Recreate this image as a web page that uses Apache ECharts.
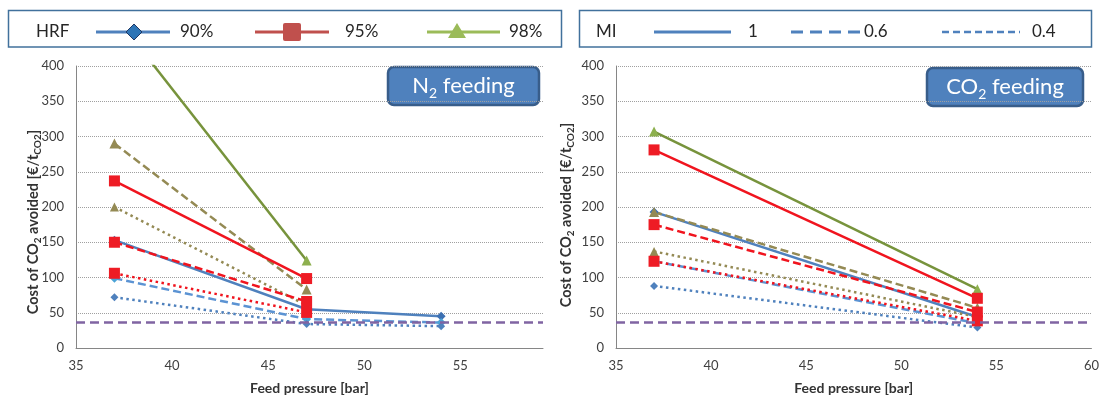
<!DOCTYPE html>
<html>
<head>
<meta charset="utf-8">
<script src="https://cdn.jsdelivr.net/npm/echarts@6/dist/echarts.min.js"></script>
<style>
html,body{margin:0;padding:0;background:#fff;}
#chart{width:1102px;height:400px;}
</style>
</head>
<body>
<div id="chart"></div>
<script>
// ---- data ----
const pressureN2 = [37, 47, 54];
const pressureCO2 = [37, 54];
const xTicks = [35, 40, 45, 50, 55, 60];
const yTicks = [0, 50, 100, 150, 200, 250, 300, 350, 400];
const refCost = 37;

// N2 feeding panel (HRF / MI)
const n2_90_1  = [153, 55, 45];
const n2_90_06 = [99, 41, 36];
const n2_90_04 = [72, 34, 31];
const n2_95_1  = [237, 98.5];
const n2_95_06 = [150, 66];
const n2_95_04 = [106, 50.5];
const n2_98_1  = [472, 124];
const n2_98_06 = [290, 83];
const n2_98_04 = [200, 60.5];

// CO2 feeding panel
const co2_90_1  = [193, 44];
const co2_90_06 = [123, 35];
const co2_90_04 = [88, 29];
const co2_95_1  = [281, 70.5];
const co2_95_06 = [175, 51];
const co2_95_04 = [123, 38.5];
const co2_98_1  = [307, 83.5];
const co2_98_06 = [193, 57];
const co2_98_04 = [137, 44];

// ---- styles ----
const FONT = 'Lato, "Open Sans", sans-serif';
const DASH = [8, 4];
const DOT = [2.5, 3.5];

const styles = {
  b1:  {line:'#4F81BD', mark:'#3D70B2', symbol:'diamond', size:9, dash:'solid'},
  b06: {line:'#5B93D3', mark:'#4BA3D6', symbol:'diamond', size:9, dash:DASH},
  b04: {line:'#4F81BD', mark:'#4F81BD', symbol:'diamond', size:8, dash:DOT},
  r1:  {line:'#F0141E', mark:'#EE1C25', symbol:'rect', size:11, dash:'solid'},
  r06: {line:'#F0141E', mark:'#EE1C25', symbol:'rect', size:11, dash:DASH},
  r04: {line:'#F0141E', mark:'#EE1C25', symbol:'rect', size:11, dash:DOT},
  g1:  {line:'#77933C', mark:'#8DB04E', symbol:'triangle', size:10, dash:'solid'},
  g06: {line:'#948A54', mark:'#948A54', symbol:'triangle', size:10, dash:DASH},
  g04: {line:'#948A54', mark:'#948A54', symbol:'triangle', size:9, dash:DOT}
};

function mk(idx, xs, vals, st, name, ref) {
  const s = {
    type: 'line', name: name, xAxisIndex: idx, yAxisIndex: idx,
    data: vals.map((v, i) => [xs[i], v]),
    symbol: st.symbol, symbolSize: st.size,
    showAllSymbol: true, clip: true,
    lineStyle: {color: st.line, width: 2.5, type: st.dash, cap: 'butt'},
    itemStyle: {color: st.mark, borderWidth: 0},
    silent: true, animation: false
  };
  if (ref) {
    s.markLine = {
      silent: true, symbol: 'none', animation: false,
      label: {show: false},
      lineStyle: {color: '#8064A2', type: [9, 5], width: 2.5},
      data: [{yAxis: refCost}]
    };
  }
  return s;
}

const series = [
  mk(0, pressureN2, n2_90_1, styles.b1, 'N2 90% MI1', true),
  mk(0, pressureN2, n2_90_06, styles.b06, 'N2 90% MI0.6'),
  mk(0, pressureN2, n2_90_04, styles.b04, 'N2 90% MI0.4'),
  mk(0, pressureN2, n2_98_1, styles.g1, 'N2 98% MI1'),
  mk(0, pressureN2, n2_98_06, styles.g06, 'N2 98% MI0.6'),
  mk(0, pressureN2, n2_98_04, styles.g04, 'N2 98% MI0.4'),
  mk(0, pressureN2, n2_95_1, styles.r1, 'N2 95% MI1'),
  mk(0, pressureN2, n2_95_06, styles.r06, 'N2 95% MI0.6'),
  mk(0, pressureN2, n2_95_04, styles.r04, 'N2 95% MI0.4'),
  mk(1, pressureCO2, co2_90_1, styles.b1, 'CO2 90% MI1', true),
  mk(1, pressureCO2, co2_90_06, styles.b06, 'CO2 90% MI0.6'),
  mk(1, pressureCO2, co2_90_04, styles.b04, 'CO2 90% MI0.4'),
  mk(1, pressureCO2, co2_98_1, styles.g1, 'CO2 98% MI1'),
  mk(1, pressureCO2, co2_98_06, styles.g06, 'CO2 98% MI0.6'),
  mk(1, pressureCO2, co2_98_04, styles.g04, 'CO2 98% MI0.4'),
  mk(1, pressureCO2, co2_95_1, styles.r1, 'CO2 95% MI1'),
  mk(1, pressureCO2, co2_95_06, styles.r06, 'CO2 95% MI0.6'),
  mk(1, pressureCO2, co2_95_04, styles.r04, 'CO2 95% MI0.4')
];

const labelColor = '#404040';
function xAx(idx, max) {
  return {
    type: 'value', gridIndex: idx, min: xTicks[0], max: max, interval: 5,
    axisLine: {show: true, lineStyle: {color: '#868686', width: 1}},
    axisTick: {show: false},
    splitLine: {show: false},
    axisLabel: {color: labelColor, fontSize: 13, fontFamily: FONT, margin: 11,
      showMaxLabel: max === xTicks[xTicks.length - 1],
      formatter: v => (xTicks.indexOf(v) >= 0 ? String(v) : '')},
    name: 'Feed pressure [bar]', nameLocation: 'middle', nameGap: 33,
    nameTextStyle: {color: '#333', fontSize: 14, fontWeight: 'bold', fontFamily: FONT}
  };
}
function yAx(idx) {
  return {
    type: 'value', gridIndex: idx, min: yTicks[0], max: yTicks[yTicks.length - 1], interval: 50,
    axisLine: {show: true, lineStyle: {color: '#868686', width: 1}},
    axisTick: {show: false},
    splitLine: {show: true, lineStyle: {color: '#A0A0A0', type: [1, 1], width: 1}},
    axisLabel: {color: labelColor, fontSize: 13, fontFamily: FONT, margin: 12}
  };
}

const yTitleRich = {
  b: {fontSize: 14.5, fontWeight: 'bold', fontFamily: FONT, fill: '#333', lineHeight: 20, verticalAlign: 'middle'},
  s: {fontSize: 10, fontWeight: 'bold', fontFamily: FONT, fill: '#333', lineHeight: 20, verticalAlign: 'bottom'}
};
const yTitleText = '{b|Cost of CO}{s|2}{b| avoided [€/t}{s|CO2}{b|]}';
const boxRich = {
  a: {fontSize: 22, fontFamily: FONT, fill: '#fff', lineHeight: 28, verticalAlign: 'middle'},
  s: {fontSize: 14, fontFamily: FONT, fill: '#fff', lineHeight: 28, verticalAlign: 'bottom'}
};

const legTxt = (x, t) => ({type: 'text', x: x, y: 32, silent: true,
  style: {text: t, fontSize: 17, fontFamily: FONT, fill: '#262626', align: 'left', verticalAlign: 'middle'}});
const legLine = (x1, x2, color, dash, w) => ({type: 'line', silent: true,
  shape: {x1: x1, y1: 32, x2: x2, y2: 32},
  style: {stroke: color, lineWidth: w || 3, lineDash: dash || null}});

const graphic = [
  // legend boxes
  {type: 'rect', silent: true, shape: {x: 8.5, y: 10.5, width: 553, height: 36.5},
   style: {fill: '#fff', stroke: '#41719C', lineWidth: 1.5}},
  {type: 'rect', silent: true, shape: {x: 579.5, y: 10.5, width: 512, height: 36.5},
   style: {fill: '#fff', stroke: '#41719C', lineWidth: 1.5}},
  legTxt(36, 'HRF'),
  legLine(96, 170, '#4F81BD'),
  {type: 'polygon', silent: true, shape: {points: [[134, 24], [142, 32], [134, 40], [126, 32]]},
   style: {fill: '#2E75B6', stroke: '#203864', lineWidth: 1}},
  legTxt(180, '90%'),
  legLine(255, 329, '#C0504D'),
  {type: 'rect', silent: true, shape: {x: 283, y: 23, width: 18, height: 18, r: 2},
   style: {fill: '#C0504D'}},
  legTxt(345, '95%'),
  legLine(427, 500, '#9BBB59'),
  {type: 'polygon', silent: true, shape: {points: [[457, 23], [466, 38], [448, 38]]},
   style: {fill: '#9BBB59'}},
  legTxt(509, '98%'),
  legTxt(596, 'MI'),
  legLine(654, 731, '#4F81BD'),
  legTxt(748, '1'),
  legLine(791, 862, '#4F81BD', [12, 7]),
  legTxt(864, '0.6'),
  legLine(942, 1020, '#4F81BD', [7, 4], 2.5),
  legTxt(1032, '0.4'),
  // panel label boxes
  {type: 'rect', silent: true, shape: {x: 388, y: 67, width: 151, height: 38, r: 6},
   style: {fill: '#4F81BD', stroke: '#385D8A', lineWidth: 2.5}},
  {type: 'text', silent: true, x: 463.5, y: 86,
   style: {text: '{a|N}{s|2}{a| feeding}', rich: boxRich, align: 'center', verticalAlign: 'middle'}},
  {type: 'rect', silent: true, shape: {x: 927, y: 68, width: 156, height: 38, r: 6},
   style: {fill: '#4F81BD', stroke: '#385D8A', lineWidth: 2.5}},
  {type: 'text', silent: true, x: 1005, y: 87,
   style: {text: '{a|CO}{s|2}{a| feeding}', rich: boxRich, align: 'center', verticalAlign: 'middle'}},
  // y axis titles
  {type: 'text', silent: true, x: 33, y: 222, rotation: Math.PI / 2,
   style: {text: yTitleText, rich: yTitleRich, align: 'center', verticalAlign: 'middle'}},
  {type: 'text', silent: true, x: 566, y: 215, rotation: Math.PI / 2,
   style: {text: yTitleText, rich: yTitleRich, align: 'center', verticalAlign: 'middle'}}
];

const chart = echarts.init(document.getElementById('chart'), null, {renderer: 'canvas'});
chart.setOption({
  backgroundColor: '#fff',
  animation: false,
  grid: [
    {left: 76, top: 66, width: 467, height: 285.5},
    {left: 616, top: 66, width: 478, height: 285.5}
  ],
  xAxis: [xAx(0, 59.3), xAx(1, 60)],
  yAxis: [yAx(0), yAx(1)],
  series: series,
  graphic: graphic
});
</script>
</body>
</html>
